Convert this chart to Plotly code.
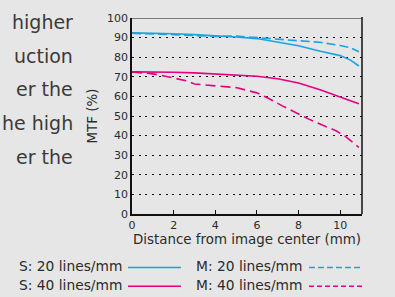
import plotly.graph_objects as go

# ---- data ----
x_s20 = [0, 1, 2, 3, 4, 5, 6, 7, 8, 9, 10, 10.5, 10.9]
s20 = [92.4, 92.3, 92.0, 91.5, 91.0, 90.3, 89.5, 87.8, 85.8, 83.2, 80.8, 78.5, 75.5]
x_m20 = [0, 1, 2, 3, 4, 5, 6, 7, 8, 9, 10, 10.5, 10.9]
m20 = [92.2, 92.0, 91.5, 91.0, 90.6, 90.8, 90.0, 89.4, 88.5, 87.6, 86.0, 84.8, 82.8]
x_s40 = [0, 1, 2, 3, 4, 5, 6, 7, 8, 9, 10, 10.9]
s40 = [72.5, 72.5, 72.3, 72.0, 71.5, 71.0, 70.3, 69.0, 66.8, 63.5, 59.5, 56.3]
x_m40 = [0, 1, 1.6, 2.6, 3.0, 4.0, 5.0, 6.0, 6.6, 7.2, 8.0, 8.5, 9.2, 9.8, 10.3, 10.9]
m40 = [72.5, 71.5, 70.3, 68.0, 66.3, 65.3, 64.5, 61.8, 58.8, 55.3, 50.8, 48.4, 45.1, 42.5, 39.2, 34.0]

y_ticks = [0, 10, 20, 30, 40, 50, 60, 70, 80, 90, 100]
x_ticks = [0, 2, 4, 6, 8, 10]
legend_labels = ["S: 20 lines/mm", "M: 20 lines/mm", "S: 40 lines/mm", "M: 40 lines/mm"]
side_text = ["higher", "uction", "er the", "he high", "er the"]

CYAN = "#19a4e2"
MAG = "#e4007f"
BG = "#e6e6e6"
TXT = "#2b2b2b"
FONT = "DejaVu Sans"

W, H = 395, 297
L, R, T, B = 132, 33, 16, 83
pw, ph = W - L - R, H - T - B


def px(xp):
    return (xp - L) / pw


def py(yp):
    return (H - B - yp) / ph


fig = go.Figure()
fig.add_trace(go.Scatter(x=x_s20, y=s20, mode="lines", line=dict(color=CYAN, width=1.6)))
fig.add_trace(go.Scatter(x=x_m20, y=m20, mode="lines", line=dict(color=CYAN, width=1.6, dash="9px,4px")))
fig.add_trace(go.Scatter(x=x_s40, y=s40, mode="lines", line=dict(color=MAG, width=1.6)))
fig.add_trace(go.Scatter(x=x_m40, y=m40, mode="lines", line=dict(color=MAG, width=1.6, dash="10px,5px")))

fig.update_layout(
    width=W, height=H,
    margin=dict(l=L, r=R, t=T, b=B),
    paper_bgcolor=BG, plot_bgcolor=BG,
    showlegend=False,
    font=dict(family=FONT, color=TXT, size=11),
    xaxis=dict(
        range=[0, 11.05], tickvals=x_ticks, ticktext=[str(v) for v in x_ticks],
        showgrid=False, zeroline=False,
        showline=True, linecolor="#111", linewidth=1.5,
        ticks="inside", ticklen=4, tickcolor="#111", tickwidth=1.2,
        tickfont=dict(size=11, color=TXT),
        title=dict(text="Distance from image center (mm)", font=dict(size=13.4, color=TXT), standoff=4),
    ),
    yaxis=dict(
        range=[0, 100], tickvals=y_ticks, ticktext=[str(v) for v in y_ticks],
        showgrid=True, gridcolor="#111", gridwidth=1, griddash="2px,4.7px",
        zeroline=False,
        showline=True, linecolor="#111", linewidth=1.5,
        ticks="", tickfont=dict(size=11, color=TXT),
        title=dict(text="MTF (%)", font=dict(size=13.4, color=TXT), standoff=6),
    ),
)

# top (gray) and right (black) frame lines
fig.add_shape(type="line", xref="x domain", yref="y", x0=0, x1=1, y0=100, y1=100,
              line=dict(color="#777", width=2))
fig.add_shape(type="line", xref="x domain", yref="y domain", x0=1, x1=1, y0=0, y1=1.005,
              line=dict(color="#111", width=1.5))

# cropped body text on the left
side_y = [20, 54, 88, 122, 156]
for t, yy in zip(side_text, side_y):
    fig.add_annotation(text=t, xref="paper", yref="paper", x=px(75), y=py(yy),
                       xanchor="right", yanchor="middle", showarrow=False,
                       font=dict(size=19, color="#3a3a3a", family=FONT))

# custom legend: text then line sample
leg = [
    (legend_labels[0], 124, 128, 181, 267, CYAN, "solid"),
    (legend_labels[1], 305, 309, 363, 267, CYAN, "6px,3px"),
    (legend_labels[2], 124, 128, 181, 286, MAG, "solid"),
    (legend_labels[3], 305, 309, 363, 286, MAG, "5px,3px"),
]
for txt, tx, l0, l1, yy, col, dash in leg:
    fig.add_annotation(text=txt, xref="paper", yref="paper", x=px(tx), y=py(yy),
                       xanchor="right", yanchor="middle", showarrow=False,
                       font=dict(size=13.8, color=TXT, family=FONT))
    fig.add_shape(type="line", xref="paper", yref="paper", x0=px(l0), x1=px(l1),
                  y0=py(yy + 1), y1=py(yy + 1), line=dict(color=col, width=1.6, dash=dash))

fig.write_html("out.html", config={"displayModeBar": False},
               post_script="document.body.style.margin='0px';")
